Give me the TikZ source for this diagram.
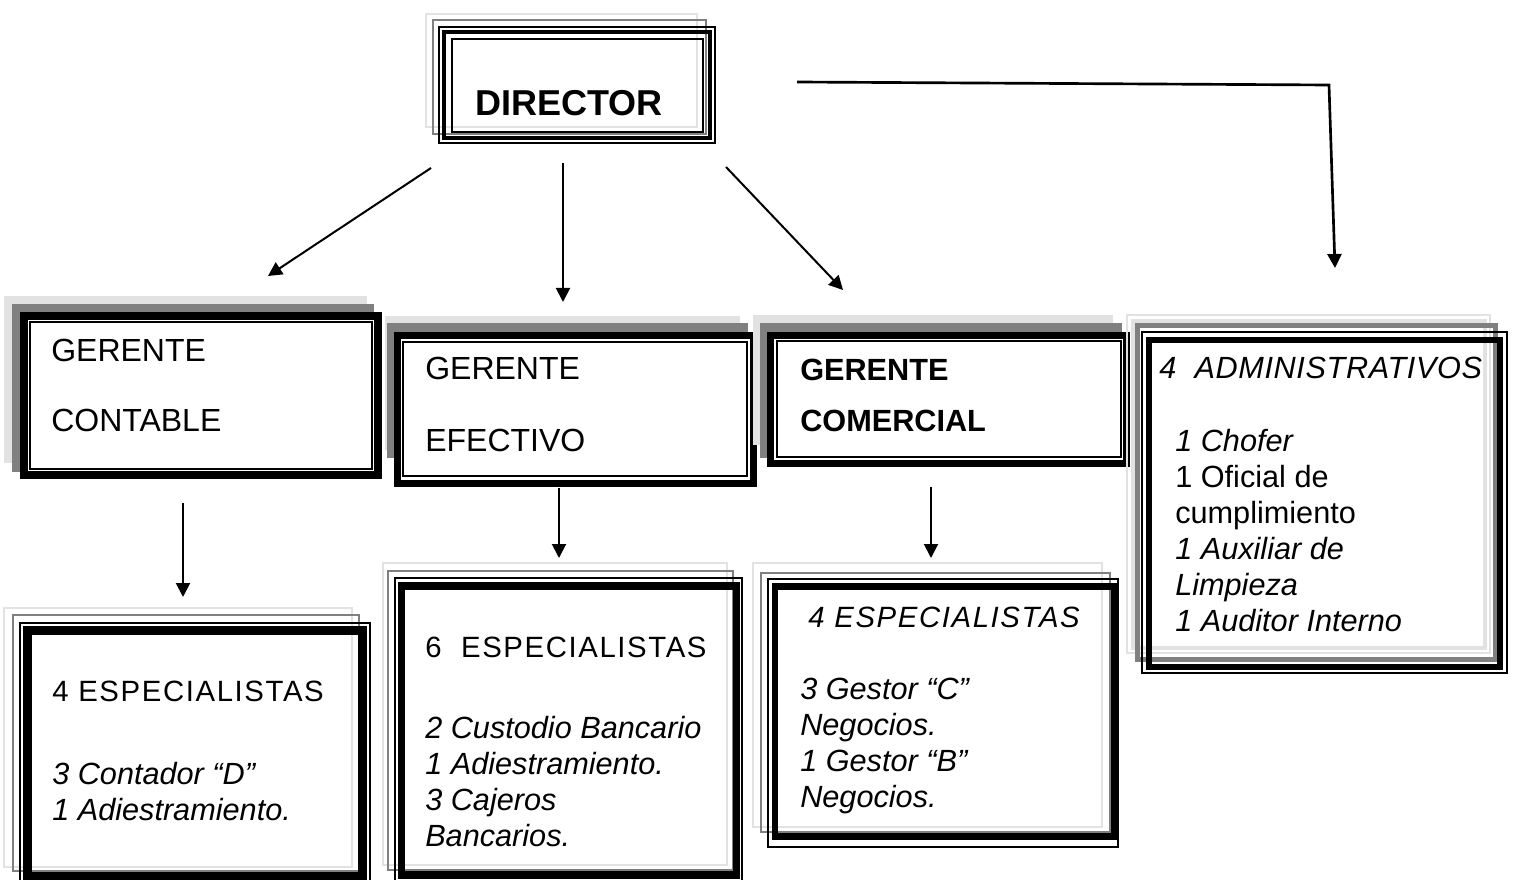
\documentclass[tikz,border=0pt]{standalone}
\usepackage{fontspec}
\setmainfont{Liberation Sans}
\usetikzlibrary{arrows.meta}
\definecolor{lgray}{HTML}{E2E2E2}
\definecolor{mgray}{HTML}{808080}
\begin{document}
\begin{tikzpicture}[x=0.75pt,y=-0.75pt,
  arr/.style={line width=1.5pt,-{Triangle[length=10.5pt,width=10.5pt]}},
  txt/.style={inner sep=0pt,anchor=north west,align=left},
  lgline/.style={draw=lgray,line width=2.2pt},
  mgline/.style={draw=mgray,line width=2.2pt},
  bthin/.style={draw=black,line width=1.1pt},
  lgshadow/.style={fill=lgray},
  mgshadow/.style={fill=mgray}]
\useasboundingbox (0,0) rectangle (1514,880);
\fill[white] (0,0) rectangle (1514,880);

% ---------- DIRECTOR ----------
\draw[lgline] (426,14) rectangle (697,127);
\draw[mgline] (433,20) rectangle (706,134);
\draw[bthin] (439,27) rectangle (715,143);
\draw[black,line width=3.5pt] (444,32) rectangle (710,138);
\draw[bthin] (452,39) rectangle (703,132);
\node[inner sep=0pt,anchor=base west,font=\bfseries\fontsize{27}{32}\selectfont] (dir) at (475,116) {DIRECTOR};

% ---------- GERENTE CONTABLE ----------
\fill[lgshadow] (4,296) rectangle (367,463);
\fill[mgshadow] (12,304) rectangle (374,472);
\draw[fill=white,line width=6pt] (24,316) rectangle (378,475);
\draw[bthin] (30,322) rectangle (372,469);
\node[txt,font=\fontsize{24}{52.5}\selectfont] (gcon) at (51,339) {GERENTE\\CONTABLE};

% ---------- GERENTE EFECTIVO ----------
\fill[lgshadow] (385,316) rectangle (740,450);
\fill[mgshadow] (387,323) rectangle (748,458);
\draw[fill=white,line width=5.2pt] (397.5,335.5) rectangle (753.5,483.5);
\draw[bthin] (403,342) rectangle (747,476);
\node[txt,font=\fontsize{24}{54}\selectfont] (gefe) at (425,357) {GERENTE\\EFECTIVO};

% ---------- GERENTE COMERCIAL ----------
\fill[lgshadow] (753,315) rectangle (1113,445);
\fill[mgshadow] (760,323) rectangle (1122,458);
\draw[fill=white,line width=5.6pt] (770.5,335.5) rectangle (1126.5,463.5);
\draw[bthin] (777,341) rectangle (1121,457);
\node[txt,font=\bfseries\fontsize{23}{38.25}\selectfont] (gcom) at (800,359) {GERENTE\\COMERCIAL};

% ---------- ADMINISTRATIVOS ----------
\draw[draw=lgray,line width=1.2pt] (1127,315) rectangle (1490,653);
\draw[draw=lgray,line width=3pt] (1133,321) rectangle (1485,648);
\draw[draw=mgray,line width=3.5pt] (1137.5,325.5) rectangle (1495.5,659.5);
\draw[bthin] (1142,332) rectangle (1507,673);
\draw[black,line width=4.5pt] (1149,340) rectangle (1500,667);
\node[txt,font=\fontsize{23}{27}\selectfont] (adm) at (1159,356.5)
  {{\addfontfeature{LetterSpace=2}\itshape 4\ \ ADMINISTRATIVOS}\\[27.75pt]
   \hspace*{12pt}\textit{1 Chofer}\\
   \hspace*{12pt}1 Oficial de\\
   \hspace*{12pt}cumplimiento\\
   \hspace*{12pt}\textit{1 Auxiliar de}\\
   \hspace*{12pt}\textit{Limpieza}\\
   \hspace*{12pt}\textit{1 Auditor Interno}};

% ---------- 4 ESPECIALISTAS (contable) ----------
\draw[draw=lgray,line width=1.5pt] (4,608) rectangle (352,867);
\draw[draw=mgray,line width=2pt] (13,615) rectangle (359,871);
\draw[bthin] (20,623) rectangle (370,884);
\draw[black,line width=6.5pt] (27.5,630.5) rectangle (362.5,876);
\node[txt,font=\fontsize{23}{27}\selectfont] (esp1) at (52,681)
  {{\fontsize{22}{27}\selectfont\addfontfeature{LetterSpace=5.5}4 ESPECIALISTAS}\\[35.25pt]
   \textit{3 Contador “D”}\\
   \textit{1 Adiestramiento.}};

% ---------- 6 ESPECIALISTAS (efectivo) ----------
\draw[draw=lgray,line width=1.5pt] (383,563) rectangle (727,865);
\draw[draw=mgray,line width=2pt] (388,571) rectangle (733,870);
\draw[bthin] (395,578) rectangle (742,884);
\draw[black,line width=5.5pt] (401.5,586) rectangle (736.5,875);
\node[txt,font=\fontsize{23}{27}\selectfont] (esp2) at (425,637)
  {{\fontsize{22}{27}\selectfont\addfontfeature{LetterSpace=5.5}6\ \ ESPECIALISTAS}\\[33.75pt]
   \textit{2 Custodio Bancario}\\
   \textit{1 Adiestramiento.}\\
   \textit{3 Cajeros}\\
   \textit{Bancarios.}};

% ---------- 4 ESPECIALISTAS (comercial) ----------
\draw[draw=lgray,line width=1.5pt] (753,563) rectangle (1102,827);
\draw[draw=mgray,line width=2pt] (761,573) rectangle (1110,832);
\draw[bthin] (768,579) rectangle (1118,847);
\draw[black,line width=5pt] (775,586.5) rectangle (1114.5,836.5);
\node[txt,font=\fontsize{23}{27}\selectfont] (esp3) at (800,607)
  {\hspace*{6pt}{\fontsize{22}{27}\selectfont\itshape\addfontfeature{LetterSpace=5.5}4 ESPECIALISTAS}\\[27pt]
   \textit{3 Gestor “C”}\\
   \textit{Negocios.}\\
   \textit{1 Gestor “B”}\\
   \textit{Negocios.}};

% ---------- connectors ----------
\coordinate (a1s) at (431,168); \coordinate (a1e) at (268,276);
\coordinate (a2s) at (563,163); \coordinate (a2e) at (563,302);
\coordinate (a3s) at (726,167); \coordinate (a3e) at (843,290);
\coordinate (a4s) at (797,82);  \coordinate (a4c) at (1329,85); \coordinate (a4e) at (1335,268);
\coordinate (a5s) at (183,503); \coordinate (a5e) at (183,597);
\coordinate (a6s) at (559,488); \coordinate (a6e) at (559,558);
\coordinate (a7s) at (931,487); \coordinate (a7e) at (931,558);
\draw[arr] (a1s) -- (a1e);
\draw[arr] (a2s) -- (a2e);
\draw[arr] (a3s) -- (a3e);
\draw[arr,line width=2pt] (a4s) -- (a4c) -- (a4e);
\draw[arr] (a5s) -- (a5e);
\draw[arr] (a6s) -- (a6e);
\draw[arr] (a7s) -- (a7e);
\end{tikzpicture}
\end{document}
